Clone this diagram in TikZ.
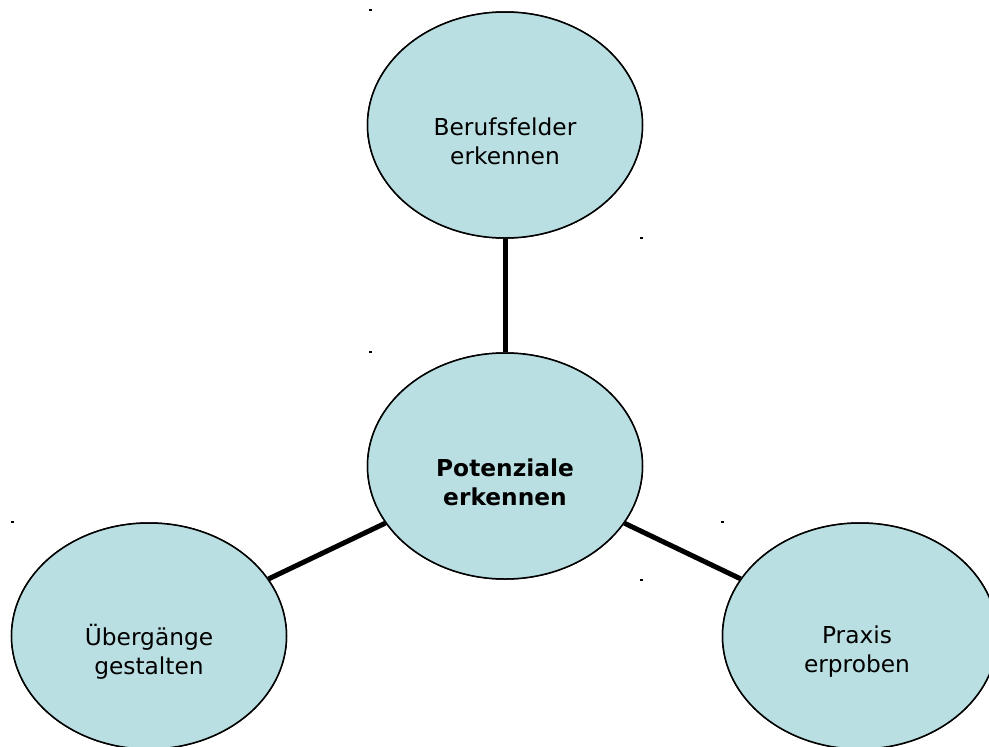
\documentclass[tikz,border=0pt]{standalone}
\usepackage{fontspec}
\setmainfont{DejaVu Sans}
\usepackage{tikz}
\usetikzlibrary{shapes.geometric}
\definecolor{fillc}{HTML}{BADFE2}
\definecolor{ink}{HTML}{000000}
\tikzset{
  bubble/.style={ellipse, draw=ink, line width=1.5pt, fill=fillc, inner sep=0pt,
    minimum width=275pt, minimum height=226pt},
  lab/.style={align=center, font=\fontsize{23.3}{29}\selectfont},
  labb/.style={lab, font=\fontsize{23.3}{29}\selectfont\bfseries},
  link/.style={draw=ink, line width=5pt},
  tick/.style={fill=ink},
}
\begin{document}
\begin{tikzpicture}[x=1pt,y=-1pt]
  \useasboundingbox (0,0) rectangle (989,747);
  \clip (0,0) rectangle (989,747);

  \coordinate (c-pot)    at (505,466);
  \coordinate (c-beruf)  at (505,125);
  \coordinate (c-ueber)  at (149,636);
  \coordinate (c-praxis) at (860,636);

  % connectors first, bubbles on top
  \path (c-pot) node[bubble] (pot) {}
        (c-beruf) node[bubble] (beruf) {}
        (c-ueber) node[bubble] (ueber) {}
        (c-praxis) node[bubble] (praxis) {};
  \draw[link] (pot) -- (beruf);
  \draw[link] (pot) -- (ueber);
  \draw[link] (pot) -- (praxis);
  \node[bubble] at (c-pot)    {};
  \node[bubble] at (c-beruf)  {};
  \node[bubble] at (c-ueber)  {};
  \node[bubble] at (c-praxis) {};

  \node[labb] (t-pot)    at ([yshift=-16pt]c-pot)    {Potenziale\\erkennen};
  \node[lab]  (t-beruf)  at ([yshift=-16pt]c-beruf)  {Berufsfelder\\erkennen};
  \node[lab]  (t-ueber)  at ([yshift=-16pt]c-ueber)  {Übergänge\\gestalten};
  \node[lab]  (t-praxis) at ([xshift=-3pt,yshift=-16pt]c-praxis) {Praxis\\erproben};

  % small marks
  \foreach \x/\y in {369/9, 640/237, 369/351, 11/521, 721/521, 640/579}
    \fill[tick] (\x,\y) rectangle ++(3,2);
\end{tikzpicture}
\end{document}
